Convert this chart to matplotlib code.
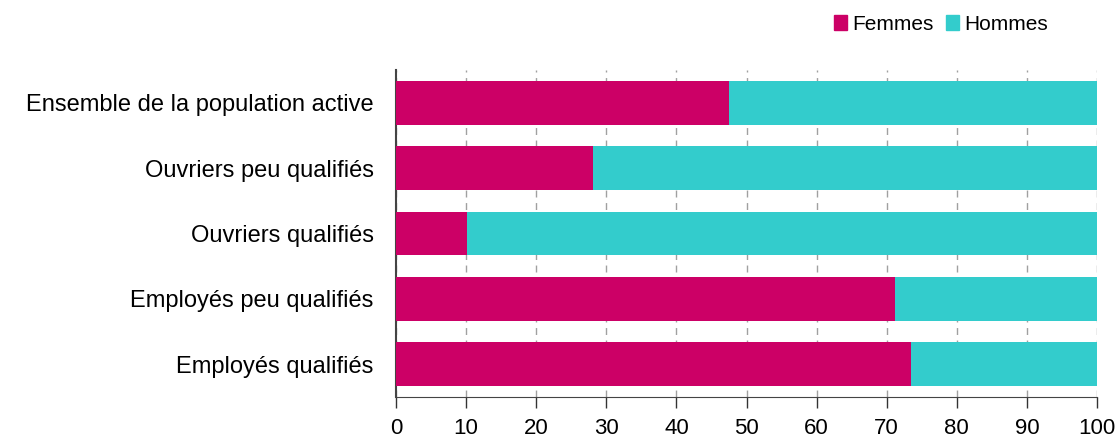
import matplotlib.pyplot as plt
from matplotlib.patches import Patch

categories = ['Ensemble de la population active',
              'Ouvriers peu qualifiés',
              'Ouvriers qualifiés',
              'Employés peu qualifiés',
              'Employés qualifiés']
femmes = [47.5, 28.1, 10.1, 71.2, 73.5]
hommes = [100 - f for f in femmes]

plt.rcParams['font.family'] = ['Liberation Sans', 'DejaVu Sans']

fig = plt.figure(figsize=(11.2, 4.43), dpi=100)
ax = fig.add_axes([0.3536, 0.1038, 0.6259, 0.7382])

pos = list(range(len(categories)))
ax.barh(pos, femmes, height=0.67, color='#CC0066', zorder=3)
ax.barh(pos, hommes, left=femmes, height=0.67, color='#33CCCC', zorder=3)

ax.set_xlim(0, 100)
ax.set_ylim(len(categories) - 0.5, -0.5)
ax.set_yticks(pos)
ax.set_yticklabels(categories, fontsize=17)
ax.set_xticks(range(0, 101, 10))
ax.tick_params(axis='x', labelsize=16, length=8, width=1, color='#333333', pad=7)
ax.tick_params(axis='y', length=0, pad=16)

ax.grid(axis='x', color='#A0A0A0', linestyle=(0, (5, 4)), linewidth=1, zorder=0)
for side in ['top', 'right']:
    ax.spines[side].set_visible(False)
ax.spines['left'].set_color('#444444')
ax.spines['left'].set_linewidth(1.5)
ax.spines['bottom'].set_color('#444444')

handles = [Patch(color='#CC0066', label='Femmes'),
           Patch(color='#33CCCC', label='Hommes')]
fig.legend(handles=handles, loc='center', bbox_to_anchor=(0.84, 0.945), ncol=2,
           frameon=False, fontsize=15, handlelength=0.62, handleheight=0.67,
           handletextpad=0.25, columnspacing=0.6, borderpad=0)

fig.savefig('out.png', dpi=100)
